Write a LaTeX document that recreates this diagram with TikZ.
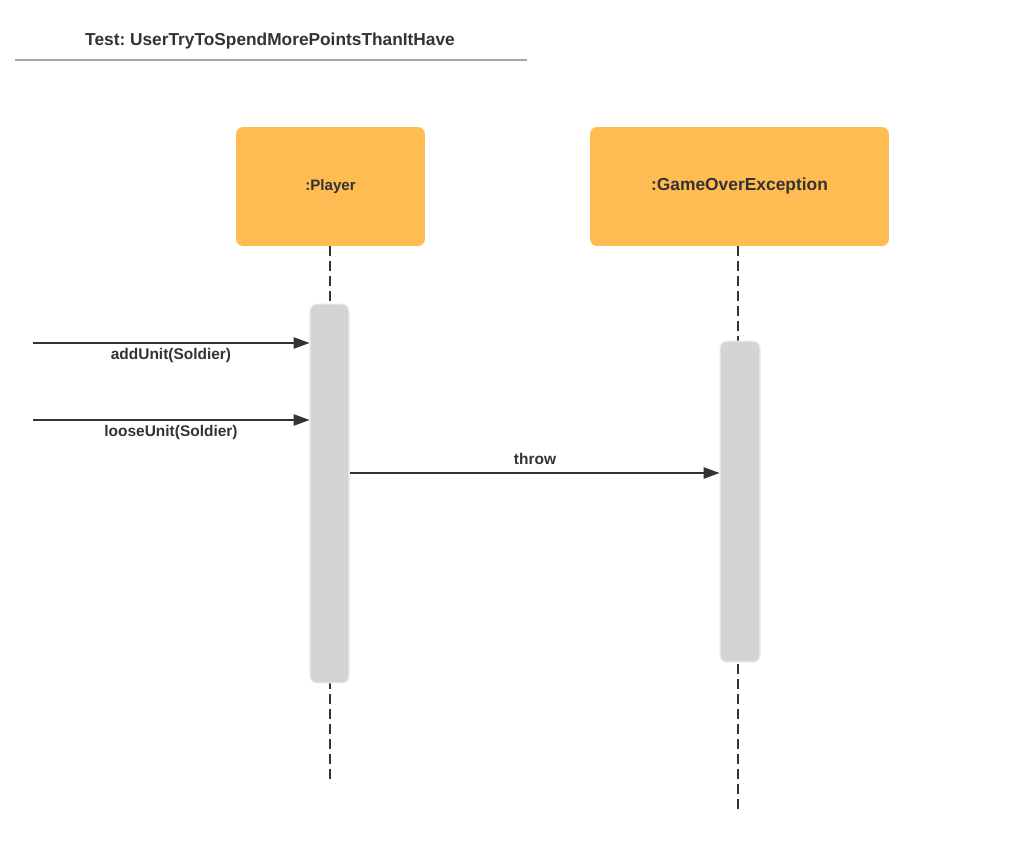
\documentclass[tikz,border=0pt]{standalone}
\usepackage{fontspec}
\setmainfont{Liberation Sans}
\usetikzlibrary{arrows.meta,positioning}
\frenchspacing

\definecolor{boxorange}{HTML}{FFBC52}
\definecolor{actgray}{HTML}{D4D4D6}
\definecolor{txtdark}{HTML}{333333}

\tikzset{
  objbox/.style={fill=boxorange, rounded corners=4pt, inner sep=0pt,
    font=\bfseries, text=txtdark},
  actbox/.style={fill=actgray, draw=gray!15, line width=0.6pt, rounded corners=4pt},
  lifeline/.style={draw=txtdark, dash pattern=on 5.5pt off 3pt, line width=0.6pt},
  msg/.style={draw=txtdark, line width=0.6pt, -{Triangle[length=9pt,width=6.5pt]}},
  msglabel/.style={font=\bfseries\fontsize{8.8}{10}\selectfont, text=txtdark}
}

\begin{document}
\begin{tikzpicture}[x=0.02cm,y=-0.02cm]
  \useasboundingbox (0,0) rectangle (1014,858);

  % titolo
  \node[font=\bfseries\fontsize{9.85}{11}\selectfont, text=txtdark] (title) at (270,41)
    {Test: UserTryToSpendMorePointsThanItHave};
  \draw[gray!70, line width=1.2pt] (15,60) -- (527,60);

  % oggetti
  \node[objbox, minimum width=3.78cm, minimum height=2.38cm,
    font=\bfseries\fontsize{8.6}{10}\selectfont] (player) at (330.5,186.5) {:Player};
  \node[objbox, minimum width=5.98cm, minimum height=2.38cm,
    font=\bfseries\fontsize{9.9}{11}\selectfont] (goe) at (739.5,186.5) {:GameOverException};

  % linee di vita
  \coordinate (playerEnd) at (330,780);
  \coordinate (goeEnd) at (738,812);
  \draw[lifeline] (player.south -| playerEnd) -- (playerEnd);
  \draw[lifeline] (goe.south -| goeEnd) -- (goeEnd);

  % attivazioni
  \node[actbox, minimum width=0.78cm, minimum height=7.58cm, inner sep=0pt] (actPlayer) at (329.5,493.5) {};
  \node[actbox, minimum width=0.8cm, minimum height=6.42cm, inner sep=0pt] (actGoe) at (740,501.5) {};

  % messaggi
  \coordinate (in1) at (33,343);
  \coordinate (in2) at (33,420);
  \draw[msg] (in1) -- (in1 -| actPlayer.west);
  \node[msglabel] (lblAdd) at (171,356) {addUnit(Soldier)};
  \draw[msg] (in2) -- (in2 -| actPlayer.west);
  \node[msglabel] (lblLoose) at (171,433) {looseUnit(Soldier)};
  \coordinate (out1) at (349,473);
  \draw[msg] (out1 -| actPlayer.east) -- (out1 -| actGoe.west);
  \node[msglabel] (lblThrow) at (535,459) {throw};
\end{tikzpicture}
\end{document}
